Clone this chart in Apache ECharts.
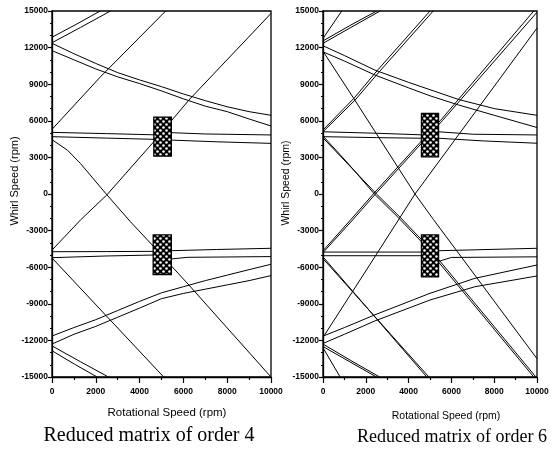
<!DOCTYPE html>
<html><head><meta charset="utf-8">
<script src="https://cdn.jsdelivr.net/npm/echarts@6/dist/echarts.min.js"></script>
<style>html,body{margin:0;padding:0;background:#fff}#c{width:554px;height:450px}</style>
</head><body><div id="c"></div>
<script>
// ---------- axis ranges / ticks ----------
const xRange = [0, 10000], xStep = 2000;
const yRange = [-15000, 15000], yStep = 3000;
const panelTitles = ['Reduced matrix of order 4', 'Reduced matrix of order 6'];

// ---------- panel 1 : reduced matrix of order 4 ----------
const p4_A1 = [[0,12850],[1100,13900],[2200,15000]];
const p4_A2 = [[0,12400],[1300,13650],[2670,15000]];
const p4_B1 = [[0,-12850],[1030,-13950],[2060,-15000]];
const p4_B2 = [[0,-12450],[1300,-13750],[2580,-15000]];
const p4_C1 = [[0,12350],[1000,11500],[2000,10700],[3000,9950],[4000,9350],[5000,8800],[6000,8200],[7000,7650],[8000,7150],[9000,6750],[10000,6450]];
const p4_C2 = [[0,11750],[1000,11000],[2000,10250],[3000,9600],[4000,9050],[5000,8450],[6000,7800],[7000,7200],[8000,6750],[9000,6150],[10000,5575]];
const p4_D1 = [[0,-11640],[1000,-10950],[2000,-10300],[3000,-9550],[4000,-8800],[5000,-8100],[6000,-7600],[7000,-7100],[8000,-6650],[9000,-6200],[10000,-5760]];
const p4_D2 = [[0,-12300],[1000,-11500],[2000,-10850],[3000,-10100],[4000,-9350],[5000,-8580],[6000,-8150],[7000,-7800],[8000,-7450],[9000,-7100],[10000,-6690]];
const p4_E1 = [[0,5050],[2500,4950],[4700,4850],[5400,5030],[7000,4920],[10000,4840]];
const p4_E2 = [[0,4700],[2500,4580],[4700,4480],[5400,4420],[7500,4280],[10000,4150]];
const p4_F1 = [[0,-4730],[2500,-4720],[4700,-4700],[5400,-4650],[7500,-4550],[10000,-4450]];
const p4_F2 = [[0,-5220],[2500,-5080],[4700,-5000],[5400,-5330],[6200,-5190],[10000,-5130]];
const p4_G  = [[0,5300],[2210,9600],[5190,15000]];
const p4_H  = [[0,-4600],[1300,-2130],[2500,-80],[4650,4290],[6250,7700],[10000,14800]];
const p4_I  = [[0,4450],[700,3600],[1300,2500],[2500,-50],[3580,-2270],[4575,-4180],[6250,-7460],[10000,-15000]];
const p4_J  = [[0,-5245],[5100,-15000]];
const p4_boxes = [[4650,3100,5450,6300],[4620,-6600,5450,-3350]];

// ---------- panel 2 : reduced matrix of order 6 ----------
const p6_A0 = [[0,12750],[875,15000]];
const p6_A1 = [[0,12550],[1250,13800],[2510,15000]];
const p6_A2 = [[0,12350],[1300,13650],[2670,15000]];
const p6_B0 = [[0,-12600],[800,-15000]];
const p6_B1 = [[0,-12500],[1250,-13750],[2500,-15000]];
const p6_B2 = [[0,-12300],[1300,-13650],[2650,-15000]];
const p6_C1 = [[0,12150],[1000,11350],[2430,10150],[4000,9150],[5000,8550],[6330,7750],[8000,7000],[10000,6450]];
const p6_C2 = [[0,11650],[1000,10900],[2430,9750],[4000,8700],[5000,8050],[6330,7300],[8000,6450],[10000,5450]];
const p6_D1 = [[0,-11650],[1000,-10950],[2430,-9900],[5000,-8140],[7100,-6910],[10000,-5820]];
const p6_D2 = [[0,-12250],[1000,-11500],[2430,-10400],[5000,-8690],[7100,-7600],[10000,-6720]];
const p6_E1 = [[0,5100],[2500,4980],[4600,4850],[5400,5100],[7000,4900],[10000,4840]];
const p6_E2 = [[0,4700],[2500,4620],[4600,4570],[5400,4570],[7500,4350],[10000,4160]];
const p6_F1 = [[0,-4760],[4600,-4760],[5400,-4650],[10000,-4450]];
const p6_F2 = [[0,-5060],[4600,-5060],[5450,-5500],[6000,-5200],[10000,-5150]];
const p6_G1 = [[0,5250],[1450,7850],[2550,10150],[5000,15000]];
const p6_G2 = [[0,5100],[1500,7700],[2620,10000],[5150,15000]];
const p6_H1 = [[0,-4650],[1300,-2100],[2350,0],[4500,4150],[5500,6050],[9850,15000]];
const p6_H2 = [[0,-4800],[1400,-2100],[2450,0],[4600,4150],[5600,6050],[10000,14900]];
const p6_I1 = [[0,4750],[1200,2450],[2400,0],[3500,-1900],[4700,-4100],[9850,-15000]];
const p6_I2 = [[0,4600],[1250,2300],[2500,0],[3600,-1900],[4800,-4100],[9950,-15000]];
const p6_J1 = [[0,-5150],[4850,-15000]];
const p6_J2 = [[0,-5300],[4950,-15000]];
const p6_K  = [[0,-11750],[2150,-5900],[4300,0],[7150,6800],[10000,13600]];
const p6_L  = [[0,11700],[1450,7800],[4300,0],[5160,-2090],[10000,-13500]];
const p6_boxes = [[4600,3050,5400,6600],[4600,-6800,5400,-3350]];

const panel4 = [p4_A1,p4_A2,p4_B1,p4_B2,p4_C1,p4_C2,p4_D1,p4_D2,p4_E1,p4_E2,p4_F1,p4_F2,p4_G,p4_H,p4_I,p4_J];
const panel6 = [p6_A0,p6_A1,p6_A2,p6_B0,p6_B1,p6_B2,p6_C1,p6_C2,p6_D1,p6_D2,p6_E1,p6_E2,p6_F1,p6_F2,p6_G1,p6_G2,p6_H1,p6_H2,p6_I1,p6_I2,p6_J1,p6_J2,p6_K,p6_L];

// ---------- hatch pattern ----------
const pc = document.createElement('canvas'); pc.width = 6; pc.height = 6;
const g = pc.getContext('2d');
g.fillStyle = '#000'; g.fillRect(0,0,6,6);
g.fillStyle = '#fff';
[[1.5,1.5],[4.5,4.5]].forEach(p=>{g.beginPath();g.arc(p[0],p[1],1.3,0,Math.PI*2);g.fill();});
const hatch = {image: pc, repeat: 'repeat'};

const FONT = 'Liberation Sans, Arial, sans-serif';
const grids = [
  {left:52, top:11, width:219, height:366},
  {left:323, top:11, width:214, height:366}
];
function xAx(i){return {gridIndex:i,type:'value',min:xRange[0],max:xRange[1],interval:xStep,
  axisLine:{show:true,onZero:false,lineStyle:{color:'#000',width:1.3}},
  axisTick:{show:true,length:6,lineStyle:{color:'#000',width:1.2}},
  minorTick:{show:true,splitNumber:2,length:3,lineStyle:{color:'#000',width:1.2}},
  splitLine:{show:false},
  axisLabel:{color:'#000',fontSize:8.5,fontFamily:FONT,margin:10,fontWeight:'bold',formatter:v=>String(v)}};}
function yAx(i){return {gridIndex:i,type:'value',min:yRange[0],max:yRange[1],interval:yStep,
  axisLine:{show:true,onZero:false,lineStyle:{color:'#000',width:1.3}},
  axisTick:{show:true,length:4,lineStyle:{color:'#000',width:1.2}},
  minorTick:{show:true,splitNumber:3,length:2,lineStyle:{color:'#000',width:1.2}},
  splitLine:{show:false},
  axisLabel:{color:'#000',fontSize:8.5,fontFamily:FONT,margin:4,fontWeight:'bold',formatter:v=>String(v)}};}

const series = [];
[panel4, panel6].forEach((lines, gi) => {
  lines.forEach(d => series.push({type:'line',xAxisIndex:gi,yAxisIndex:gi,data:d,symbol:'none',
    smooth:false,lineStyle:{color:'#000',width:1},silent:true,z:3}));
});
[p4_boxes, p6_boxes].forEach((boxes, gi) => {
  series.push({type:'custom',xAxisIndex:gi,yAxisIndex:gi,data:boxes,z:5,silent:true,
    renderItem:function(params, api){
      const a = api.coord([api.value(0), api.value(3)]);
      const b = api.coord([api.value(2), api.value(1)]);
      return {type:'rect',shape:{x:a[0],y:a[1],width:b[0]-a[0],height:b[1]-a[1]},
        style:{fill:hatch,stroke:'#000',lineWidth:1.3}};
    }});
});

const graphic = [];
[[15,181,11],[286,183,10.5]].forEach(p => graphic.push({type:'text',x:p[0],y:p[1],rotation:Math.PI/2,
  style:{text:'Whirl Speed (rpm)',font:p[2]+'px '+FONT,fill:'#000',textAlign:'center',textVerticalAlign:'middle'}}));
[[167,413,11.5],[446,416,10.5]].forEach(p => graphic.push({type:'text',x:p[0],y:p[1],
  style:{text:'Rotational Speed (rpm)',font:p[2]+'px '+FONT,fill:'#000',textAlign:'center',textVerticalAlign:'middle'}}));
[[149,436,20],[452,437,18]].forEach((p,i) => graphic.push({type:'text',x:p[0],y:p[1],
  style:{text:panelTitles[i],font:p[2]+'px Liberation Serif, Times New Roman, serif',fill:'#000',textAlign:'center',textVerticalAlign:'middle'}}));

const chart = echarts.init(document.getElementById('c'), null, {renderer:'canvas'});
chart.setOption({
  animation:false,
  backgroundColor:'#fff',
  grid: grids.map(gd => Object.assign({show:true,borderColor:'#000',borderWidth:1.3,backgroundColor:'transparent'}, gd)),
  xAxis:[xAx(0),xAx(1)],
  yAxis:[yAx(0),yAx(1)],
  series: series,
  graphic: graphic
});
</script></body></html>
